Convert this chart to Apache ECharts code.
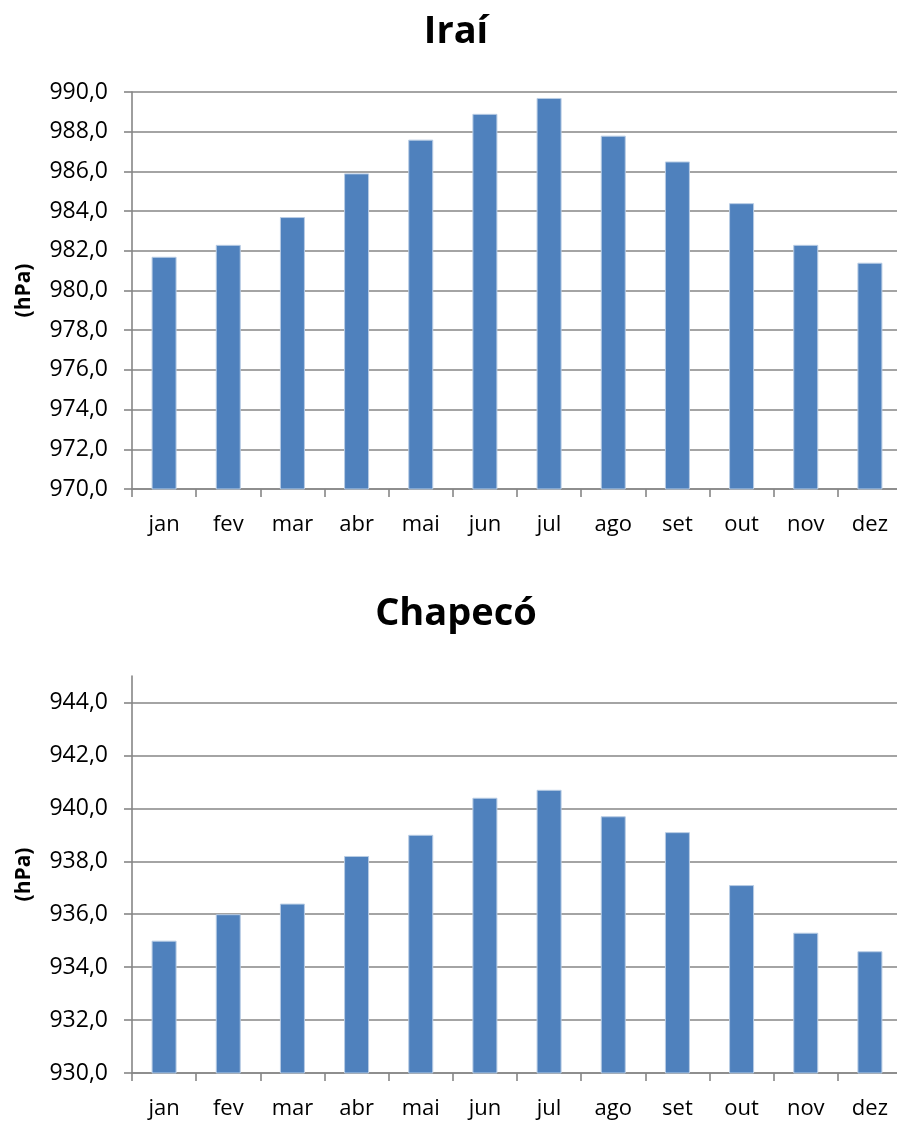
<!DOCTYPE html>
<html>
<head>
<meta charset="utf-8">
<script src="https://cdn.jsdelivr.net/npm/echarts@6/dist/echarts.min.js"></script>
<style>
  html, body { margin: 0; padding: 0; background: #ffffff; }
  #chart { width: 897px; height: 1122px; }
</style>
</head>
<body>
<div id="chart"></div>
<script>
// Monthly mean atmospheric pressure (hPa)
const months = ['jan', 'fev', 'mar', 'abr', 'mai', 'jun', 'jul', 'ago', 'set', 'out', 'nov', 'dez'];
const iraiValues = [981.7, 982.3, 983.7, 985.9, 987.6, 988.9, 989.7, 987.8, 986.5, 984.4, 982.3, 981.4];
const chapecoValues = [935.0, 936.0, 936.4, 938.2, 939.0, 940.4, 940.7, 939.7, 939.1, 937.1, 935.3, 934.6];
const iraiTicks = [970, 972, 974, 976, 978, 980, 982, 984, 986, 988, 990];
const chapecoTicks = [930, 932, 934, 936, 938, 940, 942, 944];

const FONT = 'Open Sans';
const GRID_GRAY = '#868686';
const BAR_BLUE = '#4f81bd';

const fmt = v => v.toFixed(1).replace('.', ',');

function valueAxis(gridIndex, min, max, ticks) {
  return {
    type: 'value', gridIndex, min, max, interval: 2,
    name: '(hPa)', nameLocation: 'middle', nameGap: 97, nameRotate: 90,
    nameTextStyle: { fontFamily: FONT, fontWeight: 'bold', fontSize: 21, color: '#000' },
    axisLine: { show: true, lineStyle: { color: GRID_GRAY, width: 1.6 } },
    axisTick: { show: true, length: 8, customValues: ticks, lineStyle: { color: GRID_GRAY, width: 1.6 } },
    axisLabel: { customValues: ticks, formatter: fmt, fontFamily: FONT, fontSize: 23, color: '#000', margin: 24 },
    splitLine: { show: true, lineStyle: { color: GRID_GRAY, width: 1.6 } }
  };
}

function categoryAxis(gridIndex) {
  return {
    type: 'category', gridIndex, data: months,
    axisLine: { lineStyle: { color: GRID_GRAY, width: 1.6 } },
    axisTick: { show: true, length: 8, lineStyle: { color: GRID_GRAY, width: 1.6 } },
    axisLabel: { fontFamily: FONT, fontSize: 22, color: '#000', margin: 25 }
  };
}

function barSeries(idx, data) {
  return {
    type: 'bar', xAxisIndex: idx, yAxisIndex: idx, data, barWidth: 25,
    itemStyle: { color: BAR_BLUE, borderColor: '#b8cce4', borderWidth: 1 },
    silent: true
  };
}

const chart = echarts.init(document.getElementById('chart'), null, { renderer: 'canvas' });
chart.setOption({
  animation: false,
  backgroundColor: '#ffffff',
  title: [
    { text: 'Iraí', left: 451, top: 8, textAlign: 'center',
      textStyle: { fontFamily: FONT, fontWeight: 'bold', fontSize: 38, color: '#000' } },
    { text: 'Chapecó', left: 451, top: 590, textAlign: 'center',
      textStyle: { fontFamily: FONT, fontWeight: 'bold', fontSize: 38, color: '#000' } }
  ],
  grid: [
    { left: 132, top: 92, width: 770, height: 397, outerBoundsMode: 'none' },
    { left: 132, top: 676, width: 770, height: 397, outerBoundsMode: 'none' }
  ],
  xAxis: [categoryAxis(0), categoryAxis(1)],
  yAxis: [valueAxis(0, 970, 990, iraiTicks), valueAxis(1, 930, 945, chapecoTicks)],
  series: [barSeries(0, iraiValues), barSeries(1, chapecoValues)]
});
</script>
</body>
</html>
